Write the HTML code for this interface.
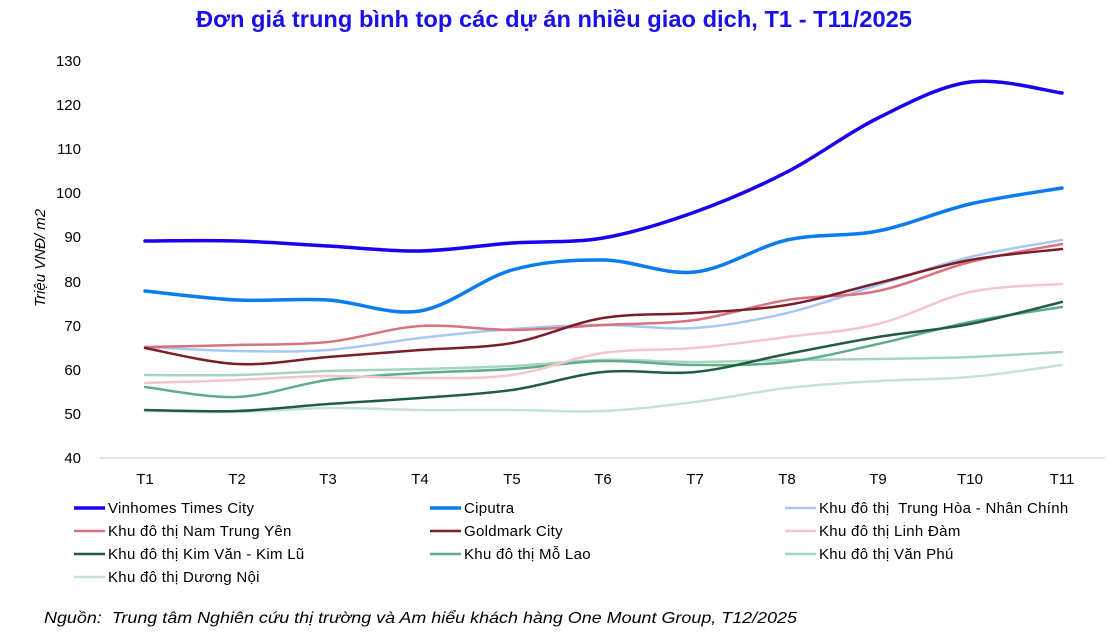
<!DOCTYPE html>
<html><head><meta charset="utf-8"><style>
body{margin:0;background:#fff;}
svg{display:block;font-family:"Liberation Sans",sans-serif;}
</style></head><body>
<svg id="c" width="1109" height="632" viewBox="0 0 1109 632" xmlns="http://www.w3.org/2000/svg">
<text x="554" y="27" text-anchor="middle" font-size="23" font-weight="bold" fill="#1a10e8" textLength="716" lengthAdjust="spacingAndGlyphs">Đơn giá trung bình top các dự án nhiều giao dịch, T1 - T11/2025</text>
<g font-size="15" fill="#000" text-anchor="end">
<text x="81" y="66">130</text><text x="81" y="110">120</text><text x="81" y="154">110</text>
<text x="81" y="198">100</text><text x="81" y="242">90</text><text x="81" y="287">80</text>
<text x="81" y="331">70</text><text x="81" y="375">60</text><text x="81" y="419">50</text>
<text x="81" y="463">40</text>
</g>
<text transform="translate(45,258) rotate(-90)" text-anchor="middle" font-size="15" font-style="italic" fill="#000">Triệu VNĐ/ m2</text>
<line x1="100" y1="458" x2="1105" y2="458" stroke="#d9d9d9" stroke-width="1.5"/>
<g font-size="15" fill="#000" text-anchor="middle" id="xl"></g>
<g id="lines" fill="none" stroke-linecap="round"></g>
<g font-size="15" fill="#000" id="leg"></g>
<text x="44" y="623" font-size="16" font-style="italic" fill="#000" textLength="753" lengthAdjust="spacingAndGlyphs" xml:space="preserve">Nguồn:  Trung tâm Nghiên cứu thị trường và Am hiểu khách hàng One Mount Group, T12/2025</text>
</svg>
<script>
var X=[145,237,328,420,512,603,695,787,878,970,1062];
var S=[
["Khu đô thị Dương Nội","#c5e3d3",2.5,[411,412,408,410,410,411,402,388,381,377,365]],
["Khu đô thị Văn Phú","#a6d5bf",2.5,[375,375,371,369,366,360,362,360,359,357,352]],
["Khu đô thị Mỗ Lao","#5fae88",2.5,[387,397,380,373,369,361,365,362,344,322,307]],
["Khu đô thị Kim Văn - Kim Lũ","#225c43",2.5,[410,411,404,398,390,372,372,354,337,324,302]],
["Khu đô thị Linh Đàm","#f2c6cc",2.5,[383,380,376,378,375,353,348,337,324,292,284]],
["Khu đô thị  Trung Hòa - Nhân Chính","#a7c7f7",2.5,[347,351,350,338,329,325,328,313,285,257,240]],
["Khu đô thị Nam Trung Yên","#d9727d",2.5,[347,345,342,326,330,325,320,300,291,262,244]],
["Goldmark City","#7d1d2a",2.5,[348,364,357,350,343,318,313,305,283,260,249]],
["Ciputra","#0a7cf2",3.5,[291,300,300,311,270,260,272,240,231,204,188]],
["Vinhomes Times City","#1a00f0",3.5,[241,241,246,251,243,238,212,172,118,82,93]]
];
var ns="http://www.w3.org/2000/svg",L=document.getElementById("lines");
S.forEach(function(s){var y=s[3],d="M"+X[0]+","+y[0];
for(var i=0;i<10;i++){var p0=i?i-1:0,p3=i<9?i+2:10;
var c1x=X[i]+(X[i+1]-X[p0])/6,c1y=y[i]+(y[i+1]-y[p0])/6,c2x=X[i+1]-(X[p3]-X[i])/6,c2y=y[i+1]-(y[p3]-y[i])/6;
d+=" C"+c1x+","+c1y+" "+c2x+","+c2y+" "+X[i+1]+","+y[i+1];}
var p=document.createElementNS(ns,"path");p.setAttribute("d",d);p.setAttribute("stroke",s[1]);p.setAttribute("stroke-width",s[2]);L.appendChild(p);});
var xl=document.getElementById("xl");
X.forEach(function(x,i){var t=document.createElementNS(ns,"text");t.setAttribute("x",x);t.setAttribute("y",484);t.textContent="T"+(i+1);xl.appendChild(t);});
var order=["Vinhomes Times City","Ciputra","Khu đô thị  Trung Hòa - Nhân Chính","Khu đô thị Nam Trung Yên","Goldmark City","Khu đô thị Linh Đàm","Khu đô thị Kim Văn - Kim Lũ","Khu đô thị Mỗ Lao","Khu đô thị Văn Phú","Khu đô thị Dương Nội"];
var cx=[74,430,785],lg=document.getElementById("leg");
order.forEach(function(n,i){var s=S.filter(function(a){return a[0]==n})[0];var c=i%3,r=Math.floor(i/3),x=cx[c],y=508+r*23;
var l=document.createElementNS(ns,"line");l.setAttribute("x1",x);l.setAttribute("x2",x+31);l.setAttribute("y1",y);l.setAttribute("y2",y);l.setAttribute("stroke",s[1]);l.setAttribute("stroke-width",s[2]);lg.appendChild(l);
var t=document.createElementNS(ns,"text");t.setAttribute("x",x+34);t.setAttribute("y",y+5);t.textContent=n;t.setAttribute("xml:space","preserve");t.style.whiteSpace="pre";t.setAttribute("letter-spacing","0.3");lg.appendChild(t);});
</script>
</body></html>
